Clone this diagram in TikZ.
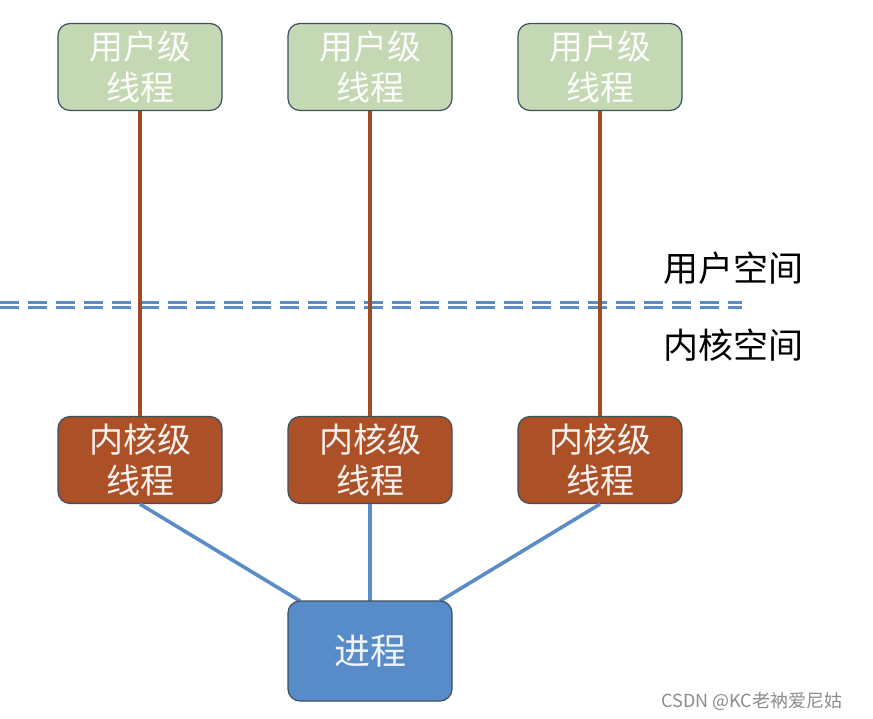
\documentclass[tikz,border=0pt]{standalone}
\usepackage{fontspec}
\setmainfont{Noto Sans CJK SC}
\usepackage{tikz}
\usetikzlibrary{positioning}

\definecolor{userfill}{RGB}{196,216,180}
\definecolor{kernfill}{RGB}{172,80,40}
\definecolor{procfill}{RGB}{88,140,200}
\definecolor{boxline}{RGB}{60,80,95}
\definecolor{brownline}{RGB}{160,75,40}
\definecolor{blueline}{RGB}{90,140,200}

\begin{document}
\begin{tikzpicture}[x=1pt,y=-1pt,
  thread node/.style={rectangle,rounded corners=12pt,draw=boxline,line width=1.2pt,
    minimum width=164pt,minimum height=87pt,align=center,
    font=\fontsize{34}{41}\selectfont,text=white},
  user node/.style={thread node,fill=userfill,text=white!95!userfill},
  kern node/.style={thread node,fill=kernfill,text=white!92!kernfill},
  space label/.style={font=\fontsize{35}{40}\selectfont}]

  \useasboundingbox (0,0) rectangle (873,719);

  \node[user node] (u1) at (140,67) {用户级\\线程};
  \node[user node] (u2) at (370,67) {用户级\\线程};
  \node[user node] (u3) at (600,67) {用户级\\线程};

  \node[kern node] (k1) at (140,460) {内核级\\线程};
  \node[kern node] (k2) at (370,460) {内核级\\线程};
  \node[kern node] (k3) at (600,460) {内核级\\线程};

  % user/kernel border
  \path[draw=blueline,line width=2.2pt,dash pattern=on 19pt off 9pt]
    (0,302.5) -- (742,302.5) (0,307.5) -- (742,307.5);

  \node[space label] (us) at (733,268) {用户空间};
  \node[space label] (ks) at (733,345) {内核空间};

  \path[draw=brownline,line width=3.2pt]
    (k1) edge (u1)
    (k2) edge (u2)
    (k3) edge (u3);

  \path[draw=blueline,line width=3.6pt]
    (k1.south) edge (300,601)
    (k2.south) edge (370,601)
    (k3.south) edge (440,601);

  \node[thread node,fill=procfill,minimum height=100pt,text=white!90!procfill,
    font=\fontsize{36}{41}\selectfont] (p) at (370,651) {进程};

  \node[font=\fontsize{18}{20}\selectfont,text=black!45] (mark) at (752,701) {CSDN @KC老衲爱尼姑};
\end{tikzpicture}
\end{document}
